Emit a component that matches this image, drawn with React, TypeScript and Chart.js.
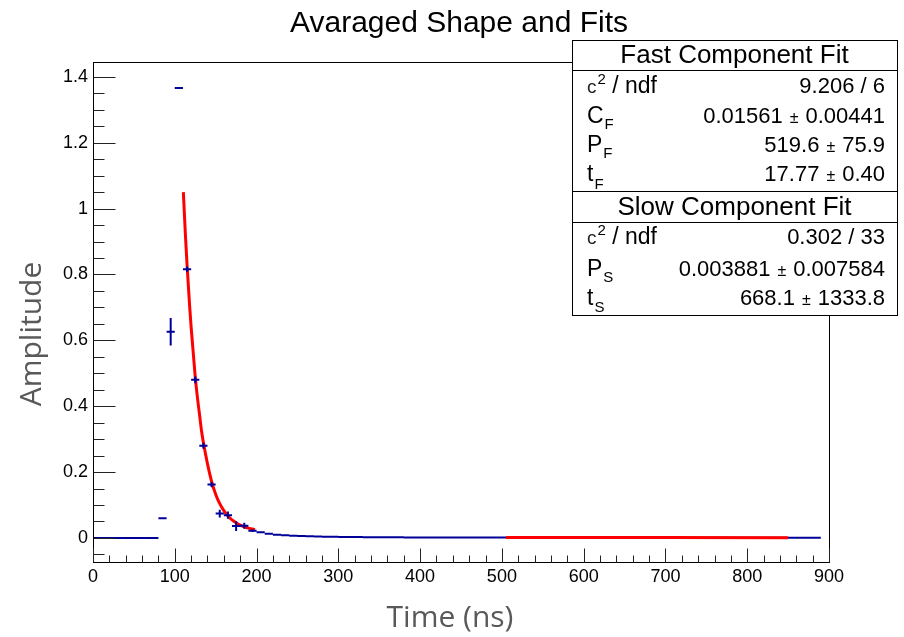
import React, { useEffect, useRef } from 'react';
import { Chart, registerables } from 'chart.js';

Chart.register(...registerables);

// ---------------- data ----------------
const binCenters = [
  5, 15, 25, 35, 45, 55, 65, 75, 85, 95,
  105, 115, 125, 135, 145, 155, 165, 175, 185, 195,
  205, 215, 225, 235, 245, 255, 265, 275, 285, 295,
  305, 315, 325, 335, 345, 355, 365, 375, 385, 395,
  405, 415, 425, 435, 445, 455, 465, 475, 485, 495,
  505, 515, 525, 535, 545, 555, 565, 575, 585, 595,
  605, 615, 625, 635, 645, 655, 665, 675, 685, 695,
  705, 715, 725, 735, 745, 755, 765, 775, 785, 795,
  805, 815, 825, 835, 845, 855, 865, 875, 885,
];
const binHalfWidth = 5;

const amplitudes = [
  0, 0, 0, 0, 0, 0, 0, 0, 0.060, 0.626,
  1.366, 0.816, 0.480, 0.280, 0.162, 0.074, 0.069, 0.036, 0.037, 0.022,
  0.017, 0.013, 0.010, 0.008, 0.007, 0.006, 0.005, 0.0045, 0.004, 0.0035,
  0.003, 0.0028, 0.0026, 0.0024, 0.0022, 0.002, 0.002, 0.0018, 0.0017, 0.0016,
  0.0015, 0.0015, 0.0014, 0.0014, 0.0013, 0.0013, 0.0012, 0.0012, 0.0012, 0.0011,
  0.0011, 0.001, 0.0011, 0.001, 0.001, 0.0011, 0.001, 0.0009, 0.001, 0.001,
  0.0009, 0.001, 0.0009, 0.0009, 0.001, 0.0009, 0.0008, 0.0009, 0.0009, 0.0008,
  0.0009, 0.0008, 0.0008, 0.0009, 0.0008, 0.0008, 0.0007, 0.0008, 0.0008, 0.0007,
  0.0008, 0.0007, 0.0007, 0.0008, 0.0007, 0.0007, 0.0007, 0.0006, 0.0007,
];

const amplitudeErrors = [
  0, 0, 0, 0, 0, 0, 0, 0, 0.002, 0.042,
  0.003, 0.008, 0.010, 0.009, 0.008, 0.012, 0.011, 0.015, 0.009, 0.004,
  0.003, 0.002, 0.002, 0.001, 0.001, 0.001, 0.001, 0.001, 0.001, 0.001,
  0.001, 0.001, 0.001, 0.001, 0.001, 0.001, 0.001, 0.001, 0.001, 0.001,
  0.001, 0.001, 0.001, 0.001, 0.001, 0.001, 0.001, 0.001, 0.001, 0.001,
  0.001, 0.001, 0.001, 0.001, 0.001, 0.001, 0.001, 0.001, 0.001, 0.001,
  0.001, 0.001, 0.001, 0.001, 0.001, 0.001, 0.001, 0.001, 0.001, 0.001,
  0.001, 0.001, 0.001, 0.001, 0.001, 0.001, 0.001, 0.001, 0.001, 0.001,
  0.001, 0.001, 0.001, 0.001, 0.001, 0.001, 0.001, 0.001, 0.001,
];

// fast fit curve
const fastFitTimes = [
  110.5, 113, 115, 118, 120, 123, 125, 128, 130, 133,
  135, 138, 140, 145, 150, 155, 160, 165, 170, 175,
  180, 185, 190, 195, 198,
];
const fastFitValues = [
  1.05, 0.92, 0.83, 0.71, 0.64, 0.55, 0.49, 0.42, 0.38, 0.32,
  0.29, 0.25, 0.225, 0.172, 0.133, 0.104, 0.083, 0.067, 0.055, 0.046,
  0.039, 0.034, 0.030, 0.027, 0.025,
];

// slow fit curve
const slowFitTimes = [505, 600, 700, 850];
const slowFitValues = [0.0015, 0.0013, 0.0011, 0.0009];

const xTicks = [0, 100, 200, 300, 400, 500, 600, 700, 800, 900];
const yTicks = [0, 0.2, 0.4, 0.6, 0.8, 1, 1.2, 1.4];

const chartTitle = 'Avaraged Shape and Fits';
const xTitle = 'Time (ns)';
const yTitle = 'Amplitude';

const fastHeader = 'Fast Component Fit';
const slowHeader = 'Slow Component Fit';
const fastChi2 = '9.206 / 6';
const slowChi2 = '0.302 / 33';
const fastParamLabels = ['C', 'P', 't'];
const fastParamValues = ['0.01561', '519.6', '17.77'];
const fastParamErrors = ['0.00441', '75.9', '0.40'];
const slowParamLabels = ['P', 't'];
const slowParamValues = ['0.003881', '668.1'];
const slowParamErrors = ['0.007584', '1333.8'];

// ---------------- styles ----------------
const BLUE = '#000099';
const RED = '#ff0000';
const ROOT_FONT = '"Liberation Sans", Arial, sans-serif';
const TITLE_FONT = '"Open Sans", sans-serif';

function drawStats(ctx: CanvasRenderingContext2D) {
  const left = 572;
  const right = 897;
  const labelX = 587;
  const valueX = 885;
  const cx = (left + right) / 2;
  const valueFont = `22px ${ROOT_FONT}`;
  const pmFont = `16px ${ROOT_FONT}`;

  ctx.save();
  ctx.lineWidth = 1;
  ctx.strokeStyle = '#000';
  ctx.fillStyle = '#fff';
  // fast box
  ctx.fillRect(left + 0.5, 40.5, right - left, 151);
  ctx.strokeRect(left + 0.5, 40.5, right - left, 151);
  ctx.beginPath();
  ctx.moveTo(left + 0.5, 70.5);
  ctx.lineTo(right + 0.5, 70.5);
  ctx.stroke();
  // slow box
  ctx.fillStyle = '#fff';
  ctx.fillRect(left + 0.5, 191.5, right - left, 124);
  ctx.strokeRect(left + 0.5, 191.5, right - left, 124);
  ctx.beginPath();
  ctx.moveTo(left + 0.5, 222.5);
  ctx.lineTo(right + 0.5, 222.5);
  ctx.stroke();

  ctx.fillStyle = '#000';
  ctx.textBaseline = 'alphabetic';
  ctx.textAlign = 'center';
  ctx.font = `26px ${ROOT_FONT}`;
  ctx.fillText(fastHeader, cx, 63);
  ctx.fillText(slowHeader, cx, 215);

  const chi2Label = (baseline: number) => {
    ctx.textAlign = 'left';
    ctx.font = `19px ${ROOT_FONT}`;
    ctx.fillStyle = '#222';
    ctx.fillText('c', labelX, baseline);
    let x = labelX + ctx.measureText('c').width + 1;
    ctx.font = `15px ${ROOT_FONT}`;
    ctx.fillStyle = '#000';
    ctx.fillText('2', x, baseline - 9);
    x += ctx.measureText('2').width;
    ctx.font = `23px ${ROOT_FONT}`;
    ctx.fillText(' / ndf', x, baseline);
  };

  const paramLabel = (main: string, sub: string, baseline: number, subBaseline: number) => {
    ctx.textAlign = 'left';
    ctx.fillStyle = '#000';
    ctx.font = `23px ${ROOT_FONT}`;
    ctx.fillText(main, labelX, baseline);
    const w = ctx.measureText(main).width;
    ctx.font = `15px ${ROOT_FONT}`;
    ctx.fillText(sub, labelX + w + 1, subBaseline);
  };

  const plainValue = (s: string, baseline: number) => {
    ctx.textAlign = 'right';
    ctx.fillStyle = '#000';
    ctx.font = valueFont;
    ctx.fillText(s, valueX, baseline);
  };

  const pmValue = (a: string, b: string, baseline: number) => {
    ctx.textAlign = 'right';
    ctx.fillStyle = '#000';
    ctx.font = valueFont;
    ctx.fillText(b, valueX, baseline);
    let x = valueX - ctx.measureText(b).width - 7;
    ctx.font = pmFont;
    ctx.fillText('\u00b1', x, baseline);
    x -= ctx.measureText('\u00b1').width + 7;
    ctx.font = valueFont;
    ctx.fillText(a, x, baseline);
  };

  // fast rows
  chi2Label(93);
  plainValue(fastChi2, 93);
  const fastBase = [123, 152, 181];
  const fastSub = [129, 158, 189];
  fastParamLabels.forEach((l, i) => {
    paramLabel(l, 'F', fastBase[i], fastSub[i]);
    pmValue(fastParamValues[i], fastParamErrors[i], fastBase[i]);
  });

  // slow rows
  chi2Label(244);
  plainValue(slowChi2, 244);
  const slowBase = [276, 305];
  const slowSub = [282, 312];
  slowParamLabels.forEach((l, i) => {
    paramLabel(l, 'S', slowBase[i], slowSub[i]);
    pmValue(slowParamValues[i], slowParamErrors[i], slowBase[i]);
  });
  ctx.restore();
}

export default function App() {
  const canvasRef = useRef<HTMLCanvasElement | null>(null);

  useEffect(() => {
    document.body.style.margin = '0';
    const canvas = canvasRef.current;
    if (!canvas) return;

    const DATA_INDEX = 1;

    const rootPlugin = {
      id: 'rootStyle',
      afterDatasetDraw(chart: any, args: any) {
        if (args.index !== DATA_INDEX) return;
        const { ctx, chartArea, scales } = chart;
        const x = scales.x;
        const y = scales.y;
        ctx.save();
        ctx.beginPath();
        ctx.rect(chartArea.left, chartArea.top, chartArea.right - chartArea.left, chartArea.bottom - chartArea.top);
        ctx.clip();
        ctx.strokeStyle = BLUE;
        ctx.lineWidth = 2;
        ctx.beginPath();
        binCenters.forEach((c, i) => {
          const px0 = x.getPixelForValue(c - binHalfWidth);
          const px1 = x.getPixelForValue(c + binHalfWidth);
          const py = y.getPixelForValue(amplitudes[i]);
          ctx.moveTo(px0, py);
          ctx.lineTo(px1, py);
          const e = amplitudeErrors[i];
          if (e > 0) {
            const px = x.getPixelForValue(c);
            ctx.moveTo(px, y.getPixelForValue(amplitudes[i] - e));
            ctx.lineTo(px, y.getPixelForValue(amplitudes[i] + e));
          }
        });
        ctx.stroke();
        ctx.restore();
      },
      afterDraw(chart: any) {
        const { ctx, chartArea, scales } = chart;
        const x = scales.x;
        const y = scales.y;
        const L = Math.round(chartArea.left) + 0.5;
        const R = Math.round(chartArea.right) + 0.5;
        const T = Math.round(chartArea.top) + 0.5;
        const B = Math.round(chartArea.bottom) + 0.5;
        ctx.save();
        // frame
        ctx.strokeStyle = '#000';
        ctx.lineWidth = 1;
        ctx.strokeRect(L, T, R - L, B - T);
        // ticks
        ctx.strokeStyle = '#222';
        ctx.beginPath();
        for (let v = 0; v <= 900; v += 20) {
          const px = Math.round(x.getPixelForValue(v)) + 0.5;
          const len = v % 100 === 0 ? 14 : 7;
          ctx.moveTo(px, B);
          ctx.lineTo(px, B - len);
        }
        for (let k = -1; k <= 28; k++) {
          const v = k * 0.05;
          if (v < y.min || v > y.max) continue;
          const py = Math.round(y.getPixelForValue(v)) + 0.5;
          const len = k % 4 === 0 ? 22 : 11;
          ctx.moveTo(L, py);
          ctx.lineTo(L + len, py);
        }
        ctx.stroke();

        // titles
        ctx.fillStyle = '#000';
        ctx.textAlign = 'center';
        ctx.textBaseline = 'alphabetic';
        ctx.font = `30px ${ROOT_FONT}`;
        ctx.fillText(chartTitle, 459, 32);

        ctx.fillStyle = '#595959';
        ctx.font = `30px ${TITLE_FONT}`;
        ctx.fillText(xTitle, 450, 627);

        ctx.save();
        ctx.translate(41, 334);
        ctx.rotate(-Math.PI / 2);
        ctx.fillText(yTitle, 0, 0);
        ctx.restore();

        drawStats(ctx);
        ctx.restore();
      },
    };

    const chart = new Chart(canvas, {
      type: 'scatter',
      data: {
        datasets: [
          {
            label: 'slow fit',
            data: slowFitTimes.map((t, i) => ({ x: t, y: slowFitValues[i] })),
            showLine: true,
            borderColor: RED,
            borderWidth: 3,
            pointRadius: 0,
          },
          {
            label: 'averaged shape',
            data: binCenters.map((c, i) => ({ x: c, y: amplitudes[i] })),
            showLine: false,
            pointRadius: 0,
          },
          {
            label: 'fast fit',
            data: fastFitTimes.map((t, i) => ({ x: t, y: fastFitValues[i] })),
            showLine: true,
            borderColor: RED,
            borderWidth: 3,
            pointRadius: 0,
            cubicInterpolationMode: 'monotone',
          },
        ],
      },
      options: {
        responsive: false,
        animation: false,
        devicePixelRatio: 1,
        layout: { padding: { left: 0, right: 75, top: 62, bottom: 0 } },
        plugins: {
          legend: { display: false },
          tooltip: { enabled: false },
          title: { display: false },
        },
        scales: {
          x: {
            type: 'linear',
            min: 0,
            max: 900,
            grid: { display: false, drawTicks: false },
            border: { display: false },
            ticks: {
              color: '#000',
              font: { family: ROOT_FONT, size: 18 },
              padding: 4,
              maxRotation: 0,
              autoSkip: false,
            },
            afterBuildTicks: (s: any) => {
              s.ticks = xTicks.map((v) => ({ value: v }));
            },
            afterFit: (s: any) => {
              s.height = 75;
            },
          },
          y: {
            type: 'linear',
            min: -0.073,
            max: 1.445,
            grid: { display: false, drawTicks: false },
            border: { display: false },
            ticks: {
              color: '#000',
              font: { family: ROOT_FONT, size: 18 },
              padding: 5,
              autoSkip: false,
              callback: (v: any) => String(Math.round(Number(v) * 10) / 10),
            },
            afterBuildTicks: (s: any) => {
              s.ticks = yTicks.map((v) => ({ value: v }));
            },
            afterFit: (s: any) => {
              s.width = 93;
            },
          },
        },
      },
      plugins: [rootPlugin],
    } as any);

    return () => chart.destroy();
  }, []);

  return (
    <div style={{ width: 904, height: 637, background: '#fff' }}>
      <canvas ref={canvasRef} width={904} height={637} style={{ display: 'block' }} />
    </div>
  );
}
